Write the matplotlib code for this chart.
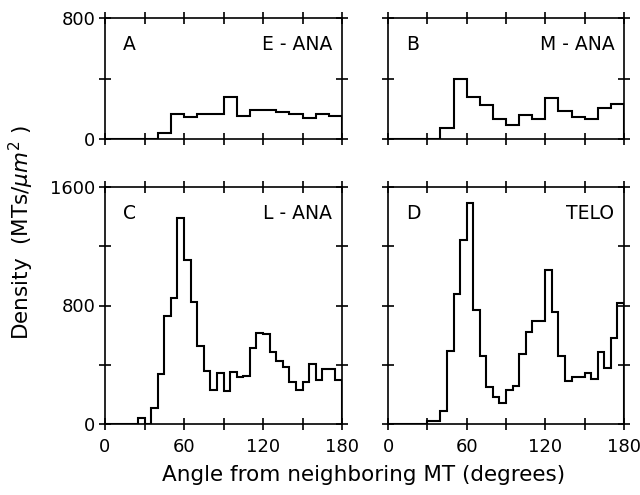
import numpy as np
import matplotlib
matplotlib.use('Agg')
import matplotlib.pyplot as plt
from matplotlib.ticker import FixedLocator, NullFormatter

# bin edges (degrees)
edges_10 = np.arange(0, 181, 10)
edges_5 = np.arange(0, 181, 5)

# A: early anaphase (10 degree bins)
e_ana = [0, 0, 0, 0, 37, 165, 145, 165, 165, 279, 155, 192, 192, 178, 165, 140, 165, 150]
# B: mid anaphase (10 degree bins)
m_ana = [0, 0, 0, 0, 76, 399, 277, 224, 131, 92, 159, 131, 272, 185, 148, 131, 203, 229]
# C: late anaphase (5 degree bins)
l_ana = [0, 0, 0, 0, 0, 38, 0, 110, 335, 732, 854, 1394, 1104, 822, 525, 358, 230, 342,
         225, 354, 315, 324, 511, 613, 608, 484, 425, 387, 286, 228, 284, 408, 297, 370,
         370, 295]
# D: telophase (5 degree bins)
telo = [0, 0, 0, 0, 0, 0, 20, 20, 88, 493, 876, 1243, 1495, 770, 459, 252, 185, 140,
        230, 257, 473, 624, 696, 696, 1040, 759, 459, 290, 320, 320, 347, 302, 489, 376,
        579, 815]

letters = ['A', 'B', 'C', 'D']
stages = ['E - ANA', 'M - ANA', 'L - ANA', 'TELO']

plt.rcParams['font.family'] = 'DejaVu Sans'
plt.rcParams['font.size'] = 13.5

fig = plt.figure(figsize=(6.4, 4.95), dpi=100)
W, H = 640.0, 495.0

def make_ax(left, right, top, bottom):
    return fig.add_axes([left / W, 1 - bottom / H, (right - left) / W, (bottom - top) / H])

ax_a = make_ax(105, 342, 18, 139)
ax_b = make_ax(388, 624, 18, 139)
ax_c = make_ax(105, 342, 187, 424)
ax_d = make_ax(388, 624, 187, 424)

panels = [
    (ax_a, e_ana, edges_10, 800),
    (ax_b, m_ana, edges_10, 800),
    (ax_c, l_ana, edges_5, 1600),
    (ax_d, telo, edges_5, 1600),
]

for i, (ax, vals, edges, ymax) in enumerate(panels):
    ax.stairs(vals, edges, color='black', lw=1.5, baseline=0)
    ax.set_xlim(0, 180)
    ax.set_ylim(0, ymax)
    for s in ax.spines.values():
        s.set_linewidth(1.2)

    ax.xaxis.set_major_locator(FixedLocator([0, 60, 120, 180]))
    ax.xaxis.set_minor_locator(FixedLocator([30, 90, 150]))
    ax.yaxis.set_major_locator(FixedLocator(np.arange(0, ymax + 1, 800)))
    ax.yaxis.set_minor_locator(FixedLocator(np.arange(400, ymax, 800)))
    ax.tick_params(which='both', direction='inout', length=8, width=1.2,
                   top=True, right=True, labelsize=13)
    ax.tick_params(axis='x', pad=6)
    ax.tick_params(axis='y', pad=3)

    if i < 2:
        ax.xaxis.set_major_formatter(NullFormatter())
    if i % 2 == 1:
        ax.yaxis.set_major_formatter(NullFormatter())

    ax.annotate(letters[i], xy=(0, 1), xycoords='axes fraction',
                xytext=(13, -12), textcoords='offset points', ha='left', va='top')
    ax.annotate(stages[i], xy=(1, 1), xycoords='axes fraction',
                xytext=(-7, -12), textcoords='offset points', ha='right', va='top')

fig.text(0.034, 0.53, r'Density  (MTs/$\mu m^2$ )', rotation=90, ha='center', va='center',
         fontsize=15.5)
fig.text(0.568, 0.04, 'Angle from neighboring MT (degrees)', ha='center', va='center',
         fontsize=15.5)

fig.savefig('out.png', dpi=100)
